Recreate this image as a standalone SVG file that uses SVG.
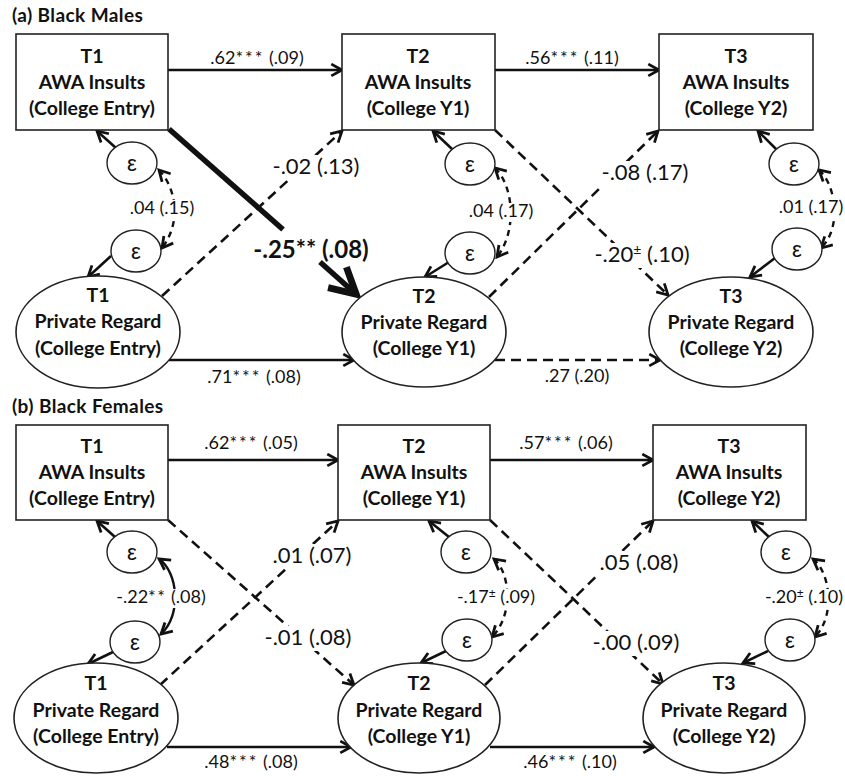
<svg xmlns="http://www.w3.org/2000/svg" width="845" height="776" viewBox="0 0 845 776">
<style>
text{font-family:Lato,"Liberation Sans",sans-serif;fill:#111;text-anchor:middle}
.nt{font-weight:bold;font-size:19.5px}
.ttl{font-weight:bold;font-size:19px;letter-spacing:0.4px;text-anchor:start}
.sl{font-size:18px}
.cl{font-size:22px}
.bl{font-size:24px;font-weight:bold}
.eps{font-family:"Liberation Sans",sans-serif;font-size:22px}
.box{fill:#fff;stroke:#222;stroke-width:1.6}
.ell{fill:#fff;stroke:#222;stroke-width:1.6}
.ec{fill:#fff;stroke:#222;stroke-width:1.4}
.s{fill:none;stroke:#111;stroke-width:2.6;marker-end:url(#ah)}
.d{fill:none;stroke:#111;stroke-width:2.6;stroke-dasharray:10 6;marker-end:url(#ah)}
.cov{fill:none;stroke:#111;stroke-width:2.4;marker-start:url(#ah2);marker-end:url(#ah)}
.covd{fill:none;stroke:#111;stroke-width:2.4;stroke-dasharray:6 5;marker-start:url(#ah2);marker-end:url(#ah)}
.bg{fill:#fff}
</style>
<defs>
<marker id="ah" markerUnits="userSpaceOnUse" viewBox="0 0 14 14" refX="12" refY="7" markerWidth="15" markerHeight="15" orient="auto">
<path d="M2,1.5 L12,7 L2,12.5" fill="none" stroke="#111" stroke-width="2.6"/>
</marker>
<marker id="ah2" markerUnits="userSpaceOnUse" viewBox="0 0 14 14" refX="12" refY="7" markerWidth="15" markerHeight="15" orient="auto-start-reverse">
<path d="M2,1.5 L12,7 L2,12.5" fill="none" stroke="#111" stroke-width="2.6"/>
</marker>
<marker id="big" markerUnits="userSpaceOnUse" viewBox="0 0 34 34" refX="30" refY="17" markerWidth="36" markerHeight="36" orient="auto">
<path d="M5,4 L29,17 L5,30" fill="none" stroke="#111" stroke-width="6.5"/>
</marker>
</defs>
<rect width="845" height="776" fill="#fff"/>

<text class="ttl" x="12" y="22">(a) Black Males</text>
<text class="ttl" x="12" y="413">(b) Black Females</text>

<g id="connectors">
<!-- panel a -->
<path class="s" d="M168,70 H342"/>
<path class="s" d="M495,70 H659"/>
<path class="s" d="M169,360 H354"/>
<path class="d" d="M495,360 H660"/>
<path d="M169,129 L283,229.5" fill="none" stroke="#111" stroke-width="5.5"/>
<path d="M320,262 L357,295" fill="none" stroke="#111" stroke-width="5.5" marker-end="url(#big)"/>
<path class="d" d="M162,296 L342,131"/>
<path class="d" d="M495,130 L668,295"/>
<path class="d" d="M489,297 L658,131"/>
<path class="s" d="M116,148 L97,131"/>
<path class="s" d="M111,256 L88,277"/>
<path class="s" d="M452,149 L433,131"/>
<path class="s" d="M449,262 L425,277"/>
<path class="s" d="M776,149 L758,131"/>
<path class="s" d="M775,258 L750,277"/>
<path class="covd" d="M159,170 C176,188 182,222 162,248"/>
<path class="covd" d="M495,168 C513,185 518,230 497,257"/>
<path class="covd" d="M819,170 C836,185 842,228 821,248"/>
<!-- panel b -->
<path class="s" d="M168,460 H338"/>
<path class="s" d="M490,460 H653"/>
<path class="s" d="M167,747 H351"/>
<path class="s" d="M490,747 H654"/>
<path class="d" d="M168,520 L354,685"/>
<path class="d" d="M160,685 L338,521"/>
<path class="d" d="M490,520 L663,684"/>
<path class="d" d="M485,685 L653,521"/>
<path class="s" d="M115,537 L97,521"/>
<path class="s" d="M113,652 L88,664"/>
<path class="s" d="M449,537 L429,521"/>
<path class="s" d="M446,651 L421,663"/>
<path class="s" d="M769,537 L752,521"/>
<path class="s" d="M768,651 L743,663"/>
<path class="cov" d="M159,559 C178,572 182,615 161,634"/>
<path class="covd" d="M494,559 C510,572 514,615 492,637"/>
<path class="covd" d="M813,559 C830,572 836,615 815,637"/>
</g>

<g id="labels">
<text class="sl" x="257" y="64">.62<tspan letter-spacing="2">***</tspan> (.09)</text>
<text class="sl" x="572" y="64">.56<tspan letter-spacing="2">***</tspan> (.11)</text>
<text class="sl" x="254" y="383">.71<tspan letter-spacing="2">***</tspan> (.08)</text>
<text class="sl" x="577" y="382">.27 (.20)</text>
<text class="bl" x="311" y="258">-.25** (.08)</text>
<rect class="bg" x="269" y="155" width="94" height="25"/>
<text class="cl" x="316" y="174">-.02 (.13)</text>
<rect class="bg" x="599" y="161" width="92" height="25"/>
<text class="cl" x="645" y="180">-.08 (.17)</text>
<rect class="bg" x="590" y="243" width="104" height="25"/>
<text class="cl" x="642" y="262">-.20<tspan font-size="14" dy="-7">±</tspan><tspan dy="7"> (.10)</tspan></text>
<rect class="bg" x="128" y="200" width="68" height="19"/>
<text class="sl" x="162" y="214">.04 (.15)</text>
<rect class="bg" x="467" y="203" width="68" height="19"/>
<text class="sl" x="501" y="217">.04 (.17)</text>
<rect class="bg" x="779" y="199" width="64" height="19"/>
<text class="sl" x="811" y="213">.01 (.17)</text>

<text class="sl" x="251" y="449">.62<tspan letter-spacing="2">***</tspan> (.05)</text>
<text class="sl" x="566" y="449">.57<tspan letter-spacing="2">***</tspan> (.06)</text>
<text class="sl" x="251" y="768">.48<tspan letter-spacing="2">***</tspan> (.08)</text>
<text class="sl" x="570" y="768">.46<tspan letter-spacing="2">***</tspan> (.10)</text>
<rect class="bg" x="269" y="544" width="87" height="25"/>
<text class="cl" x="312" y="563">.01 (.07)</text>
<rect class="bg" x="261" y="626" width="94" height="25"/>
<text class="cl" x="308" y="645">-.01 (.08)</text>
<rect class="bg" x="596" y="551" width="86" height="25"/>
<text class="cl" x="639" y="570">.05 (.08)</text>
<rect class="bg" x="590" y="631" width="92" height="25"/>
<text class="cl" x="636" y="650">-.00 (.09)</text>
<rect class="bg" x="115" y="589" width="92" height="19"/>
<text class="sl" x="161" y="603">-.22<tspan letter-spacing="1.5">**</tspan> (.08)</text>
<rect class="bg" x="457" y="589" width="78" height="19"/>
<text class="sl" x="496" y="603">-.17<tspan font-size="12" dy="-6">±</tspan><tspan dy="6"> (.09)</tspan></text>
<rect class="bg" x="768" y="589" width="75" height="19"/>
<text class="sl" x="804" y="603" font-size="17px">-.20<tspan font-size="12" dy="-6">±</tspan><tspan dy="6"> (.10)</tspan></text>
</g>

<g id="a-t1-awa"><rect class="box" x="16" y="34" width="152" height="96"/>
<text class="nt" x="92" y="63">T1</text><text class="nt" x="92" y="89">AWA Insults</text><text class="nt" x="92" y="115">(College Entry)</text></g>
<g id="a-t2-awa"><rect class="box" x="342" y="34" width="153" height="96"/>
<text class="nt" x="418" y="63">T2</text><text class="nt" x="418" y="89">AWA Insults</text><text class="nt" x="418" y="115">(College Y1)</text></g>
<g id="a-t3-awa"><rect class="box" x="659" y="34" width="154" height="96"/>
<text class="nt" x="736" y="63">T3</text><text class="nt" x="736" y="89">AWA Insults</text><text class="nt" x="736" y="115">(College Y2)</text></g>
<g id="a-t1-pr"><ellipse class="ell" cx="98" cy="332" rx="82" ry="56"/>
<text class="nt" x="98" y="302">T1</text><text class="nt" x="98" y="328">Private Regard</text><text class="nt" x="98" y="355">(College Entry)</text></g>
<g id="a-t2-pr"><ellipse class="ell" cx="424" cy="332" rx="82" ry="55"/>
<text class="nt" x="424" y="303">T2</text><text class="nt" x="424" y="329">Private Regard</text><text class="nt" x="424" y="355">(College Y1)</text></g>
<g id="a-t3-pr"><ellipse class="ell" cx="731" cy="332" rx="82" ry="55"/>
<text class="nt" x="731" y="303">T3</text><text class="nt" x="731" y="329">Private Regard</text><text class="nt" x="731" y="355">(College Y2)</text></g>
<g id="a-e1u"><ellipse class="ec" cx="132" cy="163" rx="25" ry="21"/><text class="eps" x="132" y="171">ε</text></g>
<g id="a-e1l"><ellipse class="ec" cx="136" cy="251" rx="25" ry="21"/><text class="eps" x="136" y="259">ε</text></g>
<g id="a-e2u"><ellipse class="ec" cx="470" cy="164" rx="25" ry="21"/><text class="eps" x="470" y="172">ε</text></g>
<g id="a-e2l"><ellipse class="ec" cx="470" cy="253" rx="25" ry="21"/><text class="eps" x="470" y="261">ε</text></g>
<g id="a-e3u"><ellipse class="ec" cx="794" cy="164" rx="25" ry="21"/><text class="eps" x="794" y="172">ε</text></g>
<g id="a-e3l"><ellipse class="ec" cx="797" cy="249" rx="25" ry="21"/><text class="eps" x="797" y="257">ε</text></g>

<g id="b-t1-awa"><rect class="box" x="16" y="425" width="152" height="95"/>
<text class="nt" x="92" y="453">T1</text><text class="nt" x="92" y="479">AWA Insults</text><text class="nt" x="92" y="505">(College Entry)</text></g>
<g id="b-t2-awa"><rect class="box" x="338" y="425" width="152" height="95"/>
<text class="nt" x="414" y="453">T2</text><text class="nt" x="414" y="479">AWA Insults</text><text class="nt" x="414" y="505">(College Y1)</text></g>
<g id="b-t3-awa"><rect class="box" x="653" y="425" width="153" height="95"/>
<text class="nt" x="729" y="453">T3</text><text class="nt" x="729" y="479">AWA Insults</text><text class="nt" x="729" y="505">(College Y2)</text></g>
<g id="b-t1-pr"><ellipse class="ell" cx="96" cy="718" rx="82" ry="55"/>
<text class="nt" x="96" y="690">T1</text><text class="nt" x="96" y="717">Private Regard</text><text class="nt" x="96" y="743">(College Entry)</text></g>
<g id="b-t2-pr"><ellipse class="ell" cx="419" cy="718" rx="81" ry="55"/>
<text class="nt" x="419" y="690">T2</text><text class="nt" x="419" y="717">Private Regard</text><text class="nt" x="419" y="743">(College Y1)</text></g>
<g id="b-t3-pr"><ellipse class="ell" cx="724" cy="718" rx="81" ry="55"/>
<text class="nt" x="724" y="690">T3</text><text class="nt" x="724" y="717">Private Regard</text><text class="nt" x="724" y="743">(College Y2)</text></g>
<g id="b-e1u"><ellipse class="ec" cx="132" cy="552" rx="25" ry="21"/><text class="eps" x="132" y="560">ε</text></g>
<g id="b-e1l"><ellipse class="ec" cx="135" cy="642" rx="25" ry="21"/><text class="eps" x="135" y="650">ε</text></g>
<g id="b-e2u"><ellipse class="ec" cx="466" cy="552" rx="25" ry="21"/><text class="eps" x="466" y="560">ε</text></g>
<g id="b-e2l"><ellipse class="ec" cx="467" cy="640" rx="25" ry="21"/><text class="eps" x="467" y="648">ε</text></g>
<g id="b-e3u"><ellipse class="ec" cx="786" cy="552" rx="25" ry="21"/><text class="eps" x="786" y="560">ε</text></g>
<g id="b-e3l"><ellipse class="ec" cx="790" cy="640" rx="25" ry="21"/><text class="eps" x="790" y="648">ε</text></g>
</svg>
